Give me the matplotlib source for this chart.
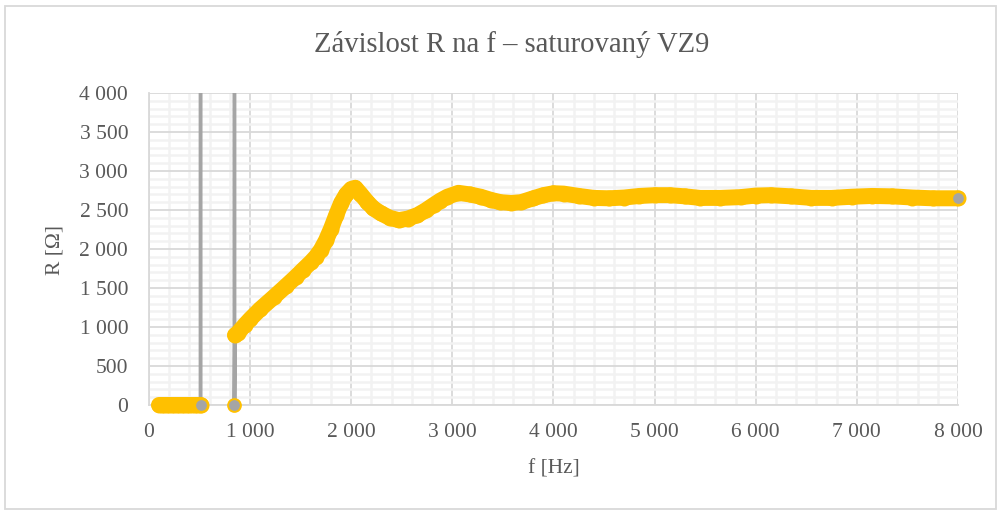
import numpy as np
import matplotlib
matplotlib.use("Agg")
import matplotlib.pyplot as plt
from matplotlib.patches import Rectangle
from matplotlib.ticker import MultipleLocator, FuncFormatter

# --- measured data -------------------------------------------------------
# low-frequency range where the meter reads zero
f_zero = [100, 125, 150, 175, 200, 225, 250, 275, 300, 325, 350, 375,
          400, 425, 450, 475, 500, 510]
R_zero = [0] * len(f_zero)

# overload readings (off scale) between the two ranges
f_over = [510, 845, 845]
R_over = [60000, 60000, 0]

# main measured curve
f_main = [850, 880, 950, 1000, 1100, 1235, 1350, 1450, 1520, 1600, 1650,
          1700, 1750, 1800, 1850, 1900, 1950, 2000, 2040, 2090, 2160, 2220,
          2290, 2380, 2470, 2560, 2655, 2735, 2815, 2880, 2950, 3060, 3170,
          3280, 3380, 3475, 3580, 3680, 3800, 3900, 4000, 4100, 4250, 4400,
          4550, 4700, 4850, 5000, 5150, 5300, 5450, 5650, 5850, 6000, 6150,
          6350, 6550, 6750, 6950, 7150, 7350, 7550, 7750, 8000]
R_main = [895, 925, 1030, 1100, 1230, 1385, 1520, 1640, 1730, 1830, 1900,
          1990, 2110, 2260, 2430, 2590, 2700, 2770, 2785, 2710, 2600, 2520,
          2460, 2400, 2370, 2390, 2435, 2495, 2565, 2620, 2670, 2720, 2700,
          2670, 2630, 2600, 2590, 2600, 2650, 2690, 2715, 2710, 2680, 2655,
          2650, 2660, 2680, 2690, 2690, 2675, 2655, 2655, 2665, 2685, 2690,
          2675, 2655, 2655, 2670, 2680, 2675, 2660, 2650, 2650]

# points highlighted at range boundaries
f_mark = [510, 845, 8000]
R_mark = [0, 0, 2650]

x_ticks = [0, 1000, 2000, 3000, 4000, 5000, 6000, 7000, 8000]
y_ticks = [0, 500, 1000, 1500, 2000, 2500, 3000, 3500, 4000]

title = "Závislost R na f – saturovaný VZ9"
x_label = "f [Hz]"
y_label = "R [Ω]"

# --- styling -------------------------------------------------------------
YELLOW = "#FFC000"
GREY = "#A5A5A5"
TEXT = "#595959"
FONT = "Liberation Serif"

W, H = 1003, 513
fig = plt.figure(figsize=(W / 100, H / 100), dpi=100)
fig.patch.set_facecolor("white")

# chart border
fig.patches.append(Rectangle((5.5 / W, 4.5 / H), (991) / W, (503) / H,
                             transform=fig.transFigure, fill=False,
                             edgecolor="#D9D9D9", linewidth=1.3))

left, right, bottom, top = 149, 958, 405, 93
ax = fig.add_axes([left / W, 1 - bottom / H, (right - left) / W, (bottom - top) / H])

ax.set_xlim(0, 8000)
ax.set_ylim(0, 4000)
ax.xaxis.set_major_locator(MultipleLocator(1000))
ax.xaxis.set_minor_locator(MultipleLocator(200))
ax.yaxis.set_major_locator(MultipleLocator(500))
ax.yaxis.set_minor_locator(MultipleLocator(100))

ax.grid(which="minor", color="#F2F2F2", linewidth=1.8, zorder=0)
ax.grid(which="major", color="#D9D9D9", linewidth=1.3, zorder=0.5)
ax.set_axisbelow(True)

for s in ["top", "right"]:
    ax.spines[s].set_visible(False)
for s in ["left", "bottom"]:
    ax.spines[s].set_color("#D9D9D9")
    ax.spines[s].set_linewidth(1.3)

ax.tick_params(which="both", length=0)
ax.tick_params(axis="x", pad=13, labelsize=15.5, labelcolor=TEXT)
ax.tick_params(axis="y", pad=15, labelsize=15.5, labelcolor=TEXT)

fmt = FuncFormatter(lambda v, p: f"{int(v):,}".replace(",", "\u00a0"))
ax.xaxis.set_major_formatter(fmt)
ax.yaxis.set_major_formatter(fmt)
ax.set_xticks(x_ticks)
ax.set_yticks(y_ticks)
for lab in ax.get_xticklabels() + ax.get_yticklabels():
    lab.set_fontfamily(FONT)

# connecting line of the whole series (grey), includes off-scale readings
f_all = f_zero + f_over + f_main
R_all = R_zero + R_over + R_main
ax.plot(f_all, R_all, color=GREY, linewidth=2.8, zorder=2,
        solid_capstyle="butt", clip_on=True)

# dense yellow markers of the two measured ranges
for fx, ry in [(f_zero, R_zero), (f_main, R_main)]:
    ax.plot(fx, ry, color=YELLOW, linewidth=11.5, solid_capstyle="round",
            solid_joinstyle="round", zorder=3, clip_on=False)
    ax.plot(fx, ry, linestyle="none", marker="o", markersize=11.5,
            markerfacecolor=YELLOW, markeredgewidth=0, zorder=3,
            clip_on=False)

ax.plot(f_mark, R_mark, linestyle="none", marker="o", markersize=9.2,
        markerfacecolor=GREY, markeredgecolor=YELLOW, markeredgewidth=1.4,
        zorder=4, clip_on=False)

fig.text(512 / W, 1 - 45 / H, title, ha="center", va="center",
         fontsize=20.6, color=TEXT, family=FONT)
fig.text((left + right) / 2 / W, 1 - 469 / H, x_label, ha="center", va="center",
         fontsize=15.5, color=TEXT, family=FONT)
fig.text(55 / W, 1 - 250 / H, y_label, ha="center", va="center",
         rotation=90, fontsize=15.5, color=TEXT, family=FONT)

fig.savefig("out.png", dpi=100, facecolor="white")
